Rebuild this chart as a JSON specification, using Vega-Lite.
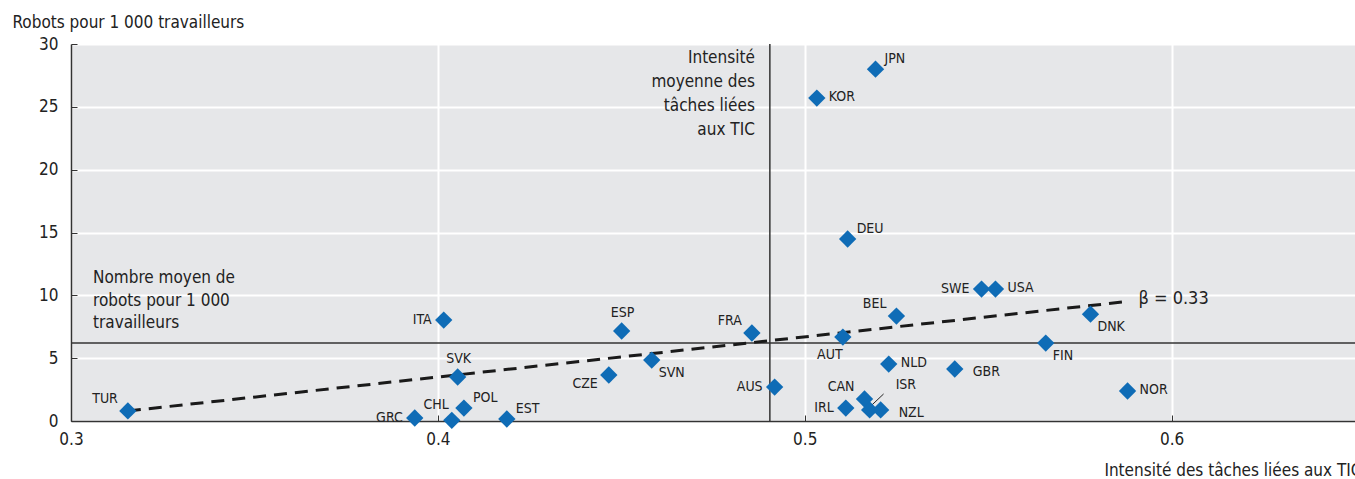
{
  "$schema": "https://vega.github.io/schema/vega-lite/v6.json",
  "width": 1284,
  "height": 377,
  "autosize": {"type": "none"},
  "padding": {"left": 71, "top": 44, "right": 0, "bottom": 58},
  "background": "white",
  "config": {
    "font": "Liberation Sans Narrow, DejaVu Sans Condensed, sans-serif",
    "view": {"fill": "#e6e7e9", "stroke": null},
    "axis": {
      "domainColor": "#333333",
      "domainWidth": 1.5,
      "tickColor": "#333333",
      "tickWidth": 1,
      "tickSize": -6,
      "gridColor": "#ffffff",
      "gridWidth": 2,
      "labelFlush": false,
      "labelFont": "Liberation Sans Narrow, DejaVu Sans Condensed, sans-serif",
      "labelFontSize": 17,
      "labelColor": "#222222",
      "titleFont": "Liberation Sans Narrow, DejaVu Sans Condensed, sans-serif",
      "titleFontSize": 17,
      "titleFontWeight": "normal",
      "titleColor": "#222222"
    }
  },
  "datasets": {
    "pays": [
      {"pays": "TUR", "x": 0.3155, "y": 0.8, "p": "tl"},
      {"pays": "GRC", "x": 0.3937, "y": 0.24, "p": "l"},
      {"pays": "CHL", "x": 0.4038, "y": 0.05, "p": "tl2"},
      {"pays": "POL", "x": 0.4071, "y": 1.03, "p": "tr"},
      {"pays": "EST", "x": 0.4188, "y": 0.16, "p": "tr"},
      {"pays": "SVK", "x": 0.4054, "y": 3.5, "p": "t"},
      {"pays": "ITA", "x": 0.4016, "y": 8.03, "p": "l"},
      {"pays": "CZE", "x": 0.4466, "y": 3.66, "p": "bl"},
      {"pays": "ESP", "x": 0.4501, "y": 7.16, "p": "t"},
      {"pays": "SVN", "x": 0.4583, "y": 4.85, "p": "br"},
      {"pays": "FRA", "x": 0.4856, "y": 7.0, "p": "tl"},
      {"pays": "AUS", "x": 0.4918, "y": 2.7, "p": "l"},
      {"pays": "KOR", "x": 0.5033, "y": 25.7, "p": "r"},
      {"pays": "JPN", "x": 0.5193, "y": 28.0, "p": "tr"},
      {"pays": "DEU", "x": 0.5117, "y": 14.48, "p": "tr"},
      {"pays": "AUT", "x": 0.5104, "y": 6.68, "p": "b"},
      {"pays": "BEL", "x": 0.525, "y": 8.35, "p": "tl"},
      {"pays": "SWE", "x": 0.5482, "y": 10.5, "p": "l"},
      {"pays": "USA", "x": 0.552, "y": 10.5, "p": "r"},
      {"pays": "DNK", "x": 0.5779, "y": 8.5, "p": "br"},
      {"pays": "FIN", "x": 0.5657, "y": 6.2, "p": "br"},
      {"pays": "NLD", "x": 0.5229, "y": 4.53, "p": "r"},
      {"pays": "GBR", "x": 0.5409, "y": 4.14, "p": "rb"},
      {"pays": "NOR", "x": 0.588, "y": 2.39, "p": "r"},
      {"pays": "CAN", "x": 0.5163, "y": 1.75, "p": "tl"},
      {"pays": "ISR", "x": 0.5177, "y": 0.88, "p": "isr"},
      {"pays": "NZL", "x": 0.5207, "y": 0.88, "p": "rb"},
      {"pays": "IRL", "x": 0.5112, "y": 1.03, "p": "l"}
    ],
    "fit": [
      {"x": 0.3155, "y": 0.8},
      {"x": 0.5877, "y": 9.5}
    ]
  },
  "layer": [
    {
      "data": {"values": [{"x": 0.4905}]},
      "mark": {"type": "rule", "color": "#333333", "strokeWidth": 1.5},
      "encoding": {"x": {"field": "x", "type": "quantitative"}}
    },
    {
      "data": {"values": [{"y": 6.2}]},
      "mark": {"type": "rule", "color": "#333333", "strokeWidth": 1.5},
      "encoding": {"y": {"field": "y", "type": "quantitative"}}
    },
    {
      "data": {"name": "fit"},
      "mark": {"type": "line", "color": "#1a1a1a", "strokeWidth": 3, "strokeDash": [13, 8]},
      "encoding": {
        "x": {"field": "x", "type": "quantitative"},
        "y": {"field": "y", "type": "quantitative"}
      }
    },
    {
      "data": {"values": [{"x": 0.5877, "y": 9.5, "t": "β = 0.33"}]},
      "mark": {"type": "text", "align": "left", "baseline": "middle", "dx": 12, "dy": -3, "fontSize": 18, "color": "#222222"},
      "encoding": {
        "x": {"field": "x", "type": "quantitative"},
        "y": {"field": "y", "type": "quantitative"},
        "text": {"field": "t"}
      }
    },
    {
      "data": {"values": [{"x": 0.5215, "y": 2.15, "x2": 0.5183, "y2": 1.27}]},
      "mark": {"type": "rule", "color": "#222222", "strokeWidth": 1},
      "encoding": {
        "x": {"field": "x", "type": "quantitative"},
        "y": {"field": "y", "type": "quantitative"},
        "x2": {"field": "x2"},
        "y2": {"field": "y2"}
      }
    },
    {
      "data": {"name": "pays"},
      "mark": {"type": "point", "shape": "diamond", "filled": true, "size": 300, "color": "#0f6cb6", "opacity": 1},
      "encoding": {
        "x": {
          "field": "x", "type": "quantitative",
          "scale": {"domain": [0.3, 0.65], "nice": false, "zero": false},
          "axis": {
            "values": [0.3, 0.4, 0.5, 0.6],
            "format": ".1f",
            "title": "Intensité des tâches liées aux TIC",
            "titleAlign": "right",
            "titleAnchor": "end",
            "titleX": 1290,
            "titleY": 49,
            "titleBaseline": "middle",
            "labelPadding": 16
          }
        },
        "y": {
          "field": "y", "type": "quantitative",
          "scale": {"domain": [0, 30], "nice": false},
          "axis": {
            "values": [0, 5, 10, 15, 20, 25, 30],
            "title": "Robots pour 1 000 travailleurs",
            "titleAngle": 0,
            "titleAlign": "left",
            "titleBaseline": "middle",
            "titleX": -59,
            "titleY": -22,
            "labelPadding": 19
          }
        }
      }
    },
    {
      "data": {"name": "pays"},
      "transform": [{"filter": "datum.p === 'r'"}],
      "mark": {"type": "text", "align": "left", "baseline": "middle", "dx": 12, "dy": -1, "fontSize": 14, "color": "#222222"},
      "encoding": {"x": {"field": "x", "type": "quantitative"}, "y": {"field": "y", "type": "quantitative"}, "text": {"field": "pays"}}
    },
    {
      "data": {"name": "pays"},
      "transform": [{"filter": "datum.p === 'rb'"}],
      "mark": {"type": "text", "align": "left", "baseline": "middle", "dx": 18, "dy": 3, "fontSize": 14, "color": "#222222"},
      "encoding": {"x": {"field": "x", "type": "quantitative"}, "y": {"field": "y", "type": "quantitative"}, "text": {"field": "pays"}}
    },
    {
      "data": {"name": "pays"},
      "transform": [{"filter": "datum.p === 'l'"}],
      "mark": {"type": "text", "align": "right", "baseline": "middle", "dx": -12, "dy": 0, "fontSize": 14, "color": "#222222"},
      "encoding": {"x": {"field": "x", "type": "quantitative"}, "y": {"field": "y", "type": "quantitative"}, "text": {"field": "pays"}}
    },
    {
      "data": {"name": "pays"},
      "transform": [{"filter": "datum.p === 't'"}],
      "mark": {"type": "text", "align": "center", "baseline": "middle", "dx": 1, "dy": -18, "fontSize": 14, "color": "#222222"},
      "encoding": {"x": {"field": "x", "type": "quantitative"}, "y": {"field": "y", "type": "quantitative"}, "text": {"field": "pays"}}
    },
    {
      "data": {"name": "pays"},
      "transform": [{"filter": "datum.p === 'tl'"}],
      "mark": {"type": "text", "align": "right", "baseline": "middle", "dx": -10, "dy": -12, "fontSize": 14, "color": "#222222"},
      "encoding": {"x": {"field": "x", "type": "quantitative"}, "y": {"field": "y", "type": "quantitative"}, "text": {"field": "pays"}}
    },
    {
      "data": {"name": "pays"},
      "transform": [{"filter": "datum.p === 'tl2'"}],
      "mark": {"type": "text", "align": "right", "baseline": "middle", "dx": -3, "dy": -15, "fontSize": 14, "color": "#222222"},
      "encoding": {"x": {"field": "x", "type": "quantitative"}, "y": {"field": "y", "type": "quantitative"}, "text": {"field": "pays"}}
    },
    {
      "data": {"name": "pays"},
      "transform": [{"filter": "datum.p === 'tr'"}],
      "mark": {"type": "text", "align": "left", "baseline": "middle", "dx": 9, "dy": -10, "fontSize": 14, "color": "#222222"},
      "encoding": {"x": {"field": "x", "type": "quantitative"}, "y": {"field": "y", "type": "quantitative"}, "text": {"field": "pays"}}
    },
    {
      "data": {"name": "pays"},
      "transform": [{"filter": "datum.p === 'bl'"}],
      "mark": {"type": "text", "align": "right", "baseline": "middle", "dx": -11, "dy": 9, "fontSize": 14, "color": "#222222"},
      "encoding": {"x": {"field": "x", "type": "quantitative"}, "y": {"field": "y", "type": "quantitative"}, "text": {"field": "pays"}}
    },
    {
      "data": {"name": "pays"},
      "transform": [{"filter": "datum.p === 'b'"}],
      "mark": {"type": "text", "align": "center", "baseline": "middle", "dx": -13, "dy": 18, "fontSize": 14, "color": "#222222"},
      "encoding": {"x": {"field": "x", "type": "quantitative"}, "y": {"field": "y", "type": "quantitative"}, "text": {"field": "pays"}}
    },
    {
      "data": {"name": "pays"},
      "transform": [{"filter": "datum.p === 'br'"}],
      "mark": {"type": "text", "align": "left", "baseline": "middle", "dx": 7, "dy": 13, "fontSize": 14, "color": "#222222"},
      "encoding": {"x": {"field": "x", "type": "quantitative"}, "y": {"field": "y", "type": "quantitative"}, "text": {"field": "pays"}}
    },
    {
      "data": {"name": "pays"},
      "transform": [{"filter": "datum.p === 'isr'"}],
      "mark": {"type": "text", "align": "left", "baseline": "middle", "dx": 26, "dy": -25, "fontSize": 14, "color": "#222222"},
      "encoding": {"x": {"field": "x", "type": "quantitative"}, "y": {"field": "y", "type": "quantitative"}, "text": {"field": "pays"}}
    },
    {
      "data": {"values": [{"x": 0.4905, "y": 29.5, "t": "Intensité\nmoyenne des\ntâches liées\naux TIC"}]},
      "mark": {"type": "text", "align": "right", "baseline": "top", "dx": -15, "fontSize": 17, "lineHeight": 24, "lineBreak": "\n", "color": "#222222"},
      "encoding": {
        "x": {"field": "x", "type": "quantitative"},
        "y": {"field": "y", "type": "quantitative"},
        "text": {"field": "t"}
      }
    },
    {
      "data": {"values": [{"x": 0.306, "y": 12.0, "t": "Nombre moyen de\nrobots pour 1 000\ntravailleurs"}]},
      "mark": {"type": "text", "align": "left", "baseline": "top", "fontSize": 17, "lineHeight": 22.5, "lineBreak": "\n", "color": "#222222"},
      "encoding": {
        "x": {"field": "x", "type": "quantitative"},
        "y": {"field": "y", "type": "quantitative"},
        "text": {"field": "t"}
      }
    }
  ]
}
